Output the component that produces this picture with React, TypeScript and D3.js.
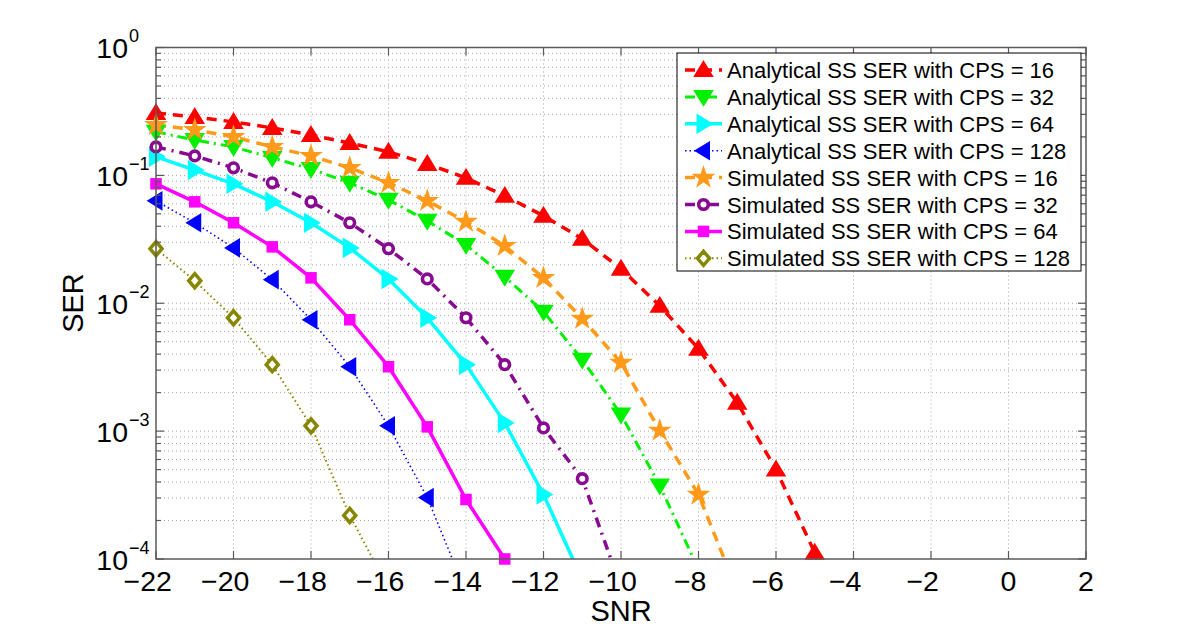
import React from "react";
import * as d3 from "d3";

// ---- data ----
const snrTicks = [-22, -20, -18, -16, -14, -12, -10, -8, -6, -4, -2, 0, 2];
const serDecades = [0, -1, -2, -3, -4];
const snrStart = -22;

const analytical16 = [0.308, 0.286, 0.262, 0.235, 0.207, 0.179, 0.153, 0.123, 0.0956, 0.0692, 0.0483, 0.0319, 0.0186, 0.00955, 0.00441, 0.00167, 0.000501, 0.000112];
const analytical32 = [0.219, 0.189, 0.167, 0.137, 0.112, 0.0874, 0.0644, 0.0441, 0.0286, 0.0161, 0.00859, 0.00362, 0.00135, 0.000375, 0.000083];
const analytical64 = [0.14, 0.11, 0.0859, 0.0621, 0.0426, 0.0271, 0.0155, 0.0077, 0.00331, 0.00116, 0.000319, 0.000069];
const analytical128 = [0.0632, 0.0426, 0.0271, 0.0153, 0.00743, 0.00319, 0.0011, 0.000302, 0.000055];
const simulated16 = [0.248, 0.227, 0.2, 0.167, 0.142, 0.1145, 0.0874, 0.0632, 0.0434, 0.0281, 0.0158, 0.00757, 0.00343, 0.00101, 0.000319, 0.000056];
const simulated32 = [0.167, 0.142, 0.1145, 0.0874, 0.0621, 0.0426, 0.0267, 0.0155, 0.0077, 0.00331, 0.00106, 0.000425, 0.00006];
const simulated64 = [0.0859, 0.0621, 0.0426, 0.0276, 0.0158, 0.00743, 0.00319, 0.00108, 0.000292, 0.0001];
const simulated128 = [0.0267, 0.015, 0.0077, 0.00331, 0.0011, 0.000219, 0.000059];

const seriesLabels = [
  "Analytical SS SER with CPS = 16",
  "Analytical SS SER with CPS = 32",
  "Analytical SS SER with CPS = 64",
  "Analytical SS SER with CPS = 128",
  "Simulated SS SER with CPS = 16",
  "Simulated SS SER with CPS = 32",
  "Simulated SS SER with CPS = 64",
  "Simulated SS SER with CPS = 128",
];
const seriesValues = [analytical16, analytical32, analytical64, analytical128, simulated16, simulated32, simulated64, simulated128];

type Style = { color: string; width: number; dash: string; marker: string };
const styles: Style[] = [
  { color: "#ff0000", width: 3.5, dash: "10,7", marker: "up" },
  { color: "#00f000", width: 3, dash: "10,5,2,5", marker: "down" },
  { color: "#00ffff", width: 3.5, dash: "", marker: "right" },
  { color: "#0000ff", width: 1.6, dash: "1.5,3", marker: "left" },
  { color: "#ff9a1a", width: 3.5, dash: "10,7", marker: "star" },
  { color: "#880a90", width: 3.5, dash: "10,6,2,6", marker: "circle" },
  { color: "#ff00ff", width: 3.5, dash: "", marker: "square" },
  { color: "#868600", width: 2, dash: "1.5,3", marker: "diamond" },
];

const W = 1200, H = 630;
const L = 156, R = 1086, T = 47.5, B = 559;
const FONT = "'Liberation Sans', Arial, Helvetica, sans-serif";

function Marker({ type, x, y, color }: { type: string; x: number; y: number; color: string }) {
  const sw = 2;
  switch (type) {
    case "up":
      return <path d={`M${x},${y - 8}L${x + 8.5},${y + 6}L${x - 8.5},${y + 6}Z`} fill={color} stroke={color} strokeWidth={sw} />;
    case "down":
      return <path d={`M${x},${y + 8}L${x + 8.5},${y - 6}L${x - 8.5},${y - 6}Z`} fill={color} stroke={color} strokeWidth={sw} />;
    case "right":
      return <path d={`M${x + 8},${y}L${x - 6},${y - 8.5}L${x - 6},${y + 8.5}Z`} fill={color} stroke={color} strokeWidth={sw} />;
    case "left":
      return <path d={`M${x - 7.5},${y}L${x + 5.5},${y - 8}L${x + 5.5},${y + 8}Z`} fill={color} stroke={color} strokeWidth={sw} />;
    case "star": {
      const p = d3.symbol(d3.symbolStar, 115)();
      return <path d={p || ""} transform={`translate(${x},${y})`} fill={color} stroke={color} strokeWidth={1.5} />;
    }
    case "circle":
      return <circle cx={x} cy={y} r={4.8} fill="#fff" stroke={color} strokeWidth={3.6} />;
    case "square":
      return <rect x={x - 5} y={y - 5} width={10} height={10} fill={color} stroke={color} strokeWidth={1.5} />;
    case "diamond":
      return <path d={`M${x},${y - 7}L${x + 6},${y}L${x},${y + 7}L${x - 6},${y}Z`} fill="#fff" stroke={color} strokeWidth={3.5} />;
  }
  return null;
}

export default function App() {
  const x = d3.scaleLinear().domain([-22, 2]).range([L, R]);
  const y = d3.scaleLog().domain([1e-4, 1]).range([B, T]);

  const minorVals: number[] = [];
  for (let e = -4; e < 0; e++) for (let m = 2; m <= 9; m++) minorVals.push(m * Math.pow(10, e));

  const line = d3
    .line<[number, number]>()
    .x((d) => x(d[0]))
    .y((d) => y(d[1]));

  const fs = 28.5;
  const digitW = 0.556 * fs;

  return (
    <svg width={W} height={H} style={{ position: "absolute", left: 0, top: 0, background: "#fff" }} fontFamily={FONT}>
      <defs>
        <clipPath id="plotclip">
          <rect x={L} y={T} width={R - L} height={B - T} />
        </clipPath>
      </defs>
      <rect x={0} y={0} width={W} height={H} fill="#fff" />
      {/* grid */}
      <g stroke="#a8a8a8" strokeWidth={1} strokeDasharray="1,3">
        {snrTicks.slice(1, -1).map((t) => (
          <line key={"gx" + t} x1={x(t)} x2={x(t)} y1={T} y2={B} />
        ))}
        {serDecades.slice(1, -1).map((e) => (
          <line key={"gy" + e} x1={L} x2={R} y1={y(Math.pow(10, e))} y2={y(Math.pow(10, e))} />
        ))}
        {minorVals.map((v, i) => (
          <line key={"gm" + i} x1={L} x2={R} y1={y(v)} y2={y(v)} />
        ))}
      </g>
      {/* series */}
      <g clipPath="url(#plotclip)">
        {seriesValues.map((vals, i) => {
          const pts = vals.map((v, j) => [snrStart + j, v] as [number, number]);
          const s = styles[i];
          return (
            <path key={"l" + i} d={line(pts) || ""} fill="none" stroke={s.color} strokeWidth={s.width} strokeDasharray={s.dash || undefined} strokeLinejoin="round" />
          );
        })}
      </g>
      <g>
        {seriesValues.map((vals, i) =>
          vals.map((v, j) =>
            v >= 0.9999e-4 ? <Marker key={`m${i}-${j}`} type={styles[i].marker} x={x(snrStart + j)} y={y(v)} color={styles[i].color} /> : null
          )
        )}
      </g>
      {/* axes box */}
      <rect x={L} y={T} width={R - L} height={B - T} fill="none" stroke="#5a5a5a" strokeWidth={1.5} />
      <g stroke="#5a5a5a" strokeWidth={1.2}>
        {snrTicks.map((t) => (
          <g key={"tx" + t}>
            <line x1={x(t)} x2={x(t)} y1={B} y2={B - 8} />
            <line x1={x(t)} x2={x(t)} y1={T} y2={T + 8} />
          </g>
        ))}
        {serDecades.map((e) => (
          <g key={"ty" + e}>
            <line x1={L} x2={L + 8} y1={y(Math.pow(10, e))} y2={y(Math.pow(10, e))} />
            <line x1={R} x2={R - 8} y1={y(Math.pow(10, e))} y2={y(Math.pow(10, e))} />
          </g>
        ))}
        {minorVals.map((v, i) => (
          <g key={"tm" + i}>
            <line x1={L} x2={L + 5} y1={y(v)} y2={y(v)} />
            <line x1={R} x2={R - 5} y1={y(v)} y2={y(v)} />
          </g>
        ))}
      </g>
      {/* x tick labels */}
      <g fontSize={fs} fill="#000">
        {snrTicks.map((t) => {
          const digits = String(Math.abs(t));
          const label = (t < 0 ? "\u2212" : "") + digits;
          return (
            <text key={"lx" + t} x={x(t) + (digits.length * digitW) / 2} y={591} textAnchor="end">
              {label}
            </text>
          );
        })}
      </g>
      {/* y tick labels */}
      <g fill="#000">
        {serDecades.map((e) => {
          const yy = y(Math.pow(10, e));
          return (
            <g key={"ly" + e}>
              <text x={128} y={yy + 10.5} fontSize={fs} textAnchor="end">10</text>
              <text x={129} y={yy - 5.5} fontSize={18} textAnchor="start">{e < 0 ? "\u2212" + Math.abs(e) : String(e)}</text>
            </g>
          );
        })}
      </g>
      {/* axis labels */}
      <text x={(L + R) / 2} y={621} fontSize={29} textAnchor="middle" fill="#000">SNR</text>
      <text x={0} y={0} fontSize={29} textAnchor="middle" fill="#000" transform={`translate(83,303) rotate(-90)`}>SER</text>
      {/* legend */}
      <g>
        <rect x={677} y={53} width={404} height={218} fill="#fff" stroke="#000" strokeWidth={1} />
        {seriesLabels.map((lab, i) => {
          const s = styles[i];
          const ry = 70 + i * 26.9;
          return (
            <g key={"lg" + i}>
              <line x1={685} x2={722} y1={ry} y2={ry} stroke={s.color} strokeWidth={s.width} strokeDasharray={s.dash || undefined} />
              <Marker type={s.marker} x={703.5} y={ry} color={s.color} />
              <text x={727} y={ry + 8} fontSize={22} fill="#000">{lab}</text>
            </g>
          );
        })}
      </g>
    </svg>
  );
}
